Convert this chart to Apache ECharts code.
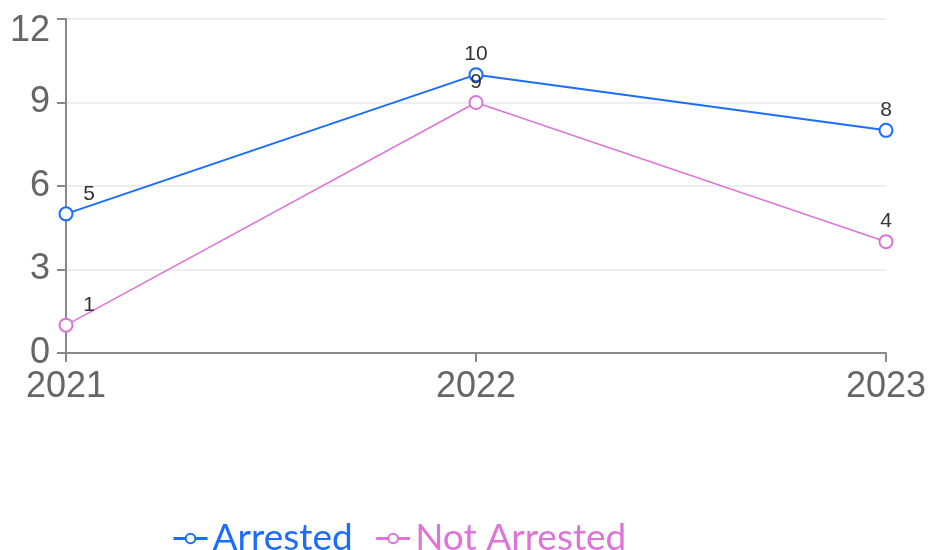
<!DOCTYPE html>
<html><head><meta charset="utf-8">
<script src="https://cdn.jsdelivr.net/npm/echarts@6/dist/echarts.min.js"></script>
<style>html,body{margin:0;padding:0;background:#fff}#c{width:931px;height:550px}</style>
</head><body><div id="c"></div>
<script>
const categories = ['2021', '2022', '2023'];
const arrested = [5, 10, 8];
const notArrested = [1, 9, 4];
const seriesNames = ['Arrested', 'Not Arrested'];
const colors = ['#1a6dff', '#dd75d9'];

function mk(vals) {
  return vals.map((v, i) => i === 0 ? { value: v, label: { offset: [23, 0] } } : v);
}
const labelStyle = { show: true, position: 'top', distance: 2, fontFamily: 'Liberation Sans', fontSize: 21, color: '#333' };
const axisFont = { fontFamily: 'Liberation Sans', fontSize: 36, color: '#666' };
const chart = echarts.init(document.getElementById('c'));
chart.setOption({
  animation: false,
  color: colors,
  grid: { left: 66, right: 45, top: 19, bottom: 197 },
  legend: {
    left: 167, top: 515,
    itemWidth: 34, itemHeight: 12, itemGap: 22,
    lineStyle: { width: 3 },
    textStyle: { fontFamily: 'Lato', fontSize: 37 },
    data: seriesNames.map((n, i) => ({ name: n, textStyle: { color: colors[i] } }))
  },
  xAxis: {
    type: 'category', data: categories, boundaryGap: false,
    axisLine: { lineStyle: { color: '#888', width: 2 } },
    axisTick: { length: 9, lineStyle: { color: '#888', width: 2 } },
    axisLabel: Object.assign({ margin: 16 }, axisFont)
  },
  yAxis: {
    type: 'value', min: 0, max: 12, interval: 3,
    axisLine: { show: true, lineStyle: { color: '#888', width: 2 } },
    axisTick: { show: true, length: 9, lineStyle: { color: '#888', width: 2 } },
    splitLine: { lineStyle: { color: '#eee', width: 2 } },
    axisLabel: Object.assign({
      margin: 16,
      formatter: v => v === 12 ? '{t|' + v + '}' : String(v),
      rich: { t: Object.assign({ padding: [24, 0, 0, 0] }, axisFont) }
    }, axisFont)
  },
  series: [
    { name: seriesNames[0], type: 'line', data: mk(arrested), symbol: 'emptyCircle', symbolSize: 13,
      lineStyle: { width: 2 }, itemStyle: { color: colors[0], borderWidth: 2 },
      label: labelStyle },
    { name: seriesNames[1], type: 'line', data: mk(notArrested), symbol: 'emptyCircle', symbolSize: 13,
      lineStyle: { width: 1.6 }, itemStyle: { color: colors[1], borderWidth: 2 },
      label: labelStyle }
  ]
});
</script></body></html>
